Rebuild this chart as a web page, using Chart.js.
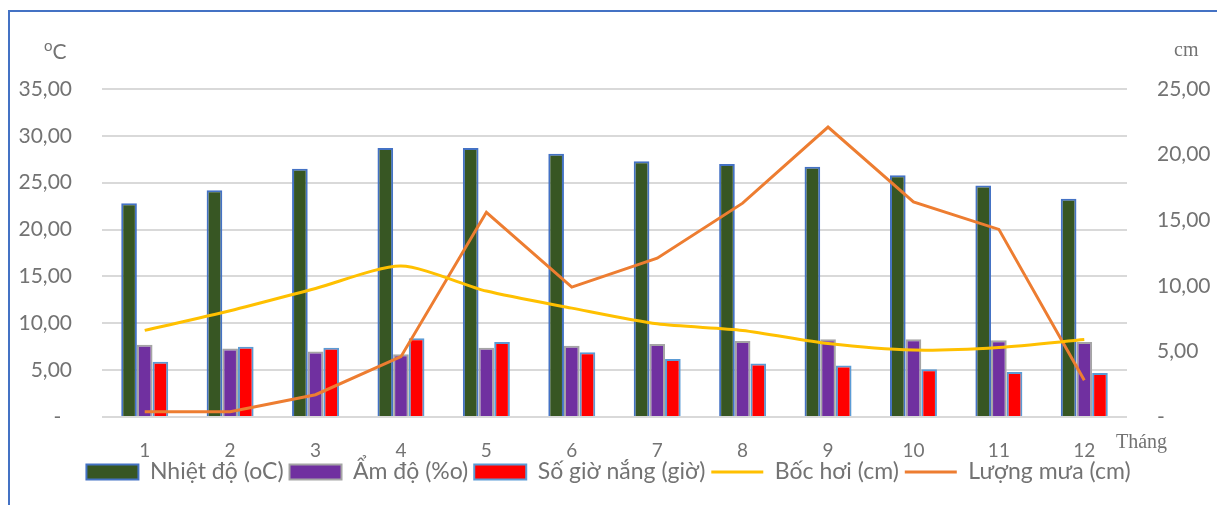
<!DOCTYPE html>
<html>
<head>
<meta charset="utf-8">
<script src="https://cdn.jsdelivr.net/npm/chart.js@4/dist/chart.umd.min.js"></script>
<style>
  body { margin: 0; background: #fff; overflow: hidden; }
  #wrap { position: relative; width: 1217px; height: 505px; }
  #frame { position: absolute; left: 8px; top: 10px; width: 1300px; height: 600px; border: 2px solid #4472C4; }
  canvas { position: absolute; left: 0; top: 0; }
  .note { position: absolute; color: #737373; font-size: 20px; line-height: 1; }
</style>
</head>
<body>
<div id="wrap">
  <div id="frame"></div>
  <canvas id="chart" width="1217" height="505"></canvas>
  <div class="note" style="left:44px; top:38px; font-family:Lato; font-size:21px;"><sup style="font-size:15px;">o</sup>C</div>
  <div class="note" style="left:1174px; top:39px; font-family:'Liberation Serif';">cm</div>
  <div class="note" style="left:1116px; top:431px; font-family:'Liberation Serif';">Tháng</div>
</div>
<script>
// Monthly climate data
const months = ['1', '2', '3', '4', '5', '6', '7', '8', '9', '10', '11', '12'];
const nhietDo = [22.8, 24.2, 26.5, 28.7, 28.7, 28.1, 27.3, 27.0, 26.7, 25.8, 24.7, 23.3];
const amDo = [7.7, 7.3, 7.0, 6.7, 7.4, 7.6, 7.8, 8.1, 8.3, 8.3, 8.2, 8.0];
const soGioNang = [5.9, 7.5, 7.4, 8.4, 8.0, 6.9, 6.2, 5.7, 5.5, 5.1, 4.8, 4.7];
const bocHoi = [6.6, 8.1, 9.8, 11.5, 9.6, 8.3, 7.1, 6.6, 5.6, 5.1, 5.3, 5.9];
const luongMua = [0.4, 0.4, 1.7, 4.6, 15.6, 9.9, 12.1, 16.3, 22.1, 16.4, 14.3, 2.8];

const textColor = '#737373';
const fontFamily = "Lato, 'Open Sans', sans-serif";

function fmt(v) {
    return v.toFixed(2).replace('.', ',');
}

// pull the legend up closer to the month labels
const legendNudge = {
    id: 'legendNudge',
    afterLayout(chart) {
        const lg = chart.legend;
        lg.top -= 6.5;
        lg.bottom -= 6.5;
    }
};

const ctx = document.getElementById('chart').getContext('2d');
new Chart(ctx, {
    type: 'bar',
    data: {
        labels: months,
        datasets: [{
            label: 'Nhiệt độ (oC)',
            data: nhietDo,
            backgroundColor: '#375623',
            borderColor: '#4472C4',
            borderWidth: 2,
            yAxisID: 'y',
            order: 1
        }, {
            label: 'Ẩm độ (%o)',
            data: amDo,
            backgroundColor: '#7030A0',
            borderColor: '#A5A5A5',
            borderWidth: 2,
            yAxisID: 'y',
            order: 1
        }, {
            label: 'Số giờ nắng (giờ)',
            data: soGioNang,
            backgroundColor: '#FF0000',
            borderColor: '#5B9BD5',
            borderWidth: 2,
            yAxisID: 'y',
            order: 1
        }, {
            type: 'line',
            label: 'Bốc hơi (cm)',
            data: bocHoi,
            borderColor: '#FFC000',
            backgroundColor: '#FFC000',
            borderWidth: 3,
            pointRadius: 0,
            tension: 0.25,
            yAxisID: 'y1',
            order: 0
        }, {
            type: 'line',
            label: 'Lượng mưa (cm)',
            data: luongMua,
            borderColor: '#ED7D31',
            backgroundColor: '#ED7D31',
            borderWidth: 3,
            pointRadius: 0,
            tension: 0,
            yAxisID: 'y1',
            order: 0
        }]
    },
    plugins: [legendNudge],
    options: {
        responsive: false,
        animation: false,
        maintainAspectRatio: false,
        layout: {
            padding: { left: 0, right: 0, top: 89, bottom: 5 }
        },
        datasets: {
            bar: { categoryPercentage: 0.55, barPercentage: 1 }
        },
        plugins: {
            tooltip: { enabled: false },
            legend: {
                position: 'bottom',
                labels: {
                    usePointStyle: true,
                    pointStyleWidth: 52,
                    boxHeight: 15,
                    padding: 6,
                    color: textColor,
                    font: { family: fontFamily, size: 23 },
                    sort: (a, b) => a.datasetIndex - b.datasetIndex,
                    generateLabels: (chart) => {
                        const items = Chart.defaults.plugins.legend.labels.generateLabels(chart);
                        items.forEach(it => {
                            const ds = chart.data.datasets[it.datasetIndex];
                            it.pointStyle = ds.type === 'line' ? 'line' : 'rect';
                        });
                        return items;
                    }
                }
            }
        },
        scales: {
            x: {
                grid: { display: false, drawTicks: false },
                border: { display: false },
                ticks: {
                    color: textColor,
                    padding: 24,
                    font: { family: fontFamily, size: 19, lineHeight: 1 }
                },
                afterFit: (scale) => { scale.height = 44; }
            },
            y: {
                position: 'left',
                min: 0,
                max: 35,
                grid: { color: '#D9D9D9', lineWidth: 2, drawTicks: false },
                border: { display: false },
                ticks: {
                    stepSize: 5,
                    padding: 30,
                    color: textColor,
                    font: { family: fontFamily, size: 21 },
                    callback: (v) => v === 0 ? '-  ' : fmt(v)
                },
                afterFit: (scale) => { scale.width = 102; }
            },
            y1: {
                position: 'right',
                min: 0,
                max: 25,
                grid: { display: false, drawTicks: false },
                border: { display: false },
                ticks: {
                    stepSize: 5,
                    padding: 30,
                    color: textColor,
                    font: { family: fontFamily, size: 21 },
                    callback: (v) => v === 0 ? '-' : fmt(v)
                },
                afterFit: (scale) => { scale.width = 90; }
            }
        }
    }
});
</script>
</body>
</html>
